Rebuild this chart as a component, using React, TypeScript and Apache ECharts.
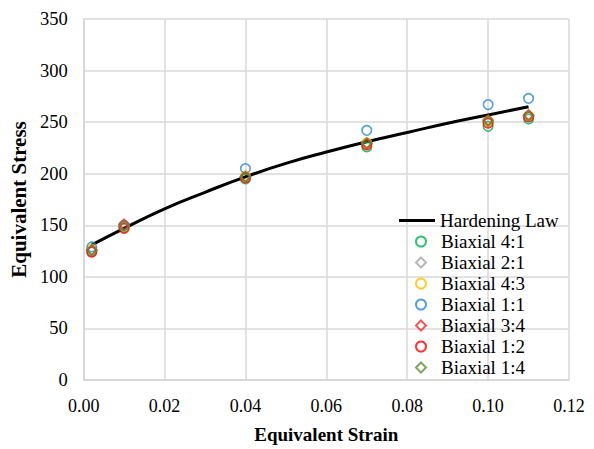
import React, { useEffect, useRef } from "react";
import * as echarts from "echarts";

const strains = [0.002, 0.01, 0.04, 0.07, 0.1, 0.11];

const lawStrain = [0.002, 0.01, 0.02, 0.03, 0.04, 0.05, 0.06, 0.07, 0.08, 0.09, 0.1, 0.11];
const lawStress = [131, 147, 166, 182, 197, 210, 221, 231, 240, 249, 257, 265];

const biaxial41 = [125, 148, 195, 226, 246, 253];
const biaxial21 = [126, 149, 197, 229, 250, 256];
const biaxial43 = [127, 149, 198, 230, 251, 256];
const biaxial11 = [129, 150, 205, 242, 267, 273];
const biaxial34 = [126, 151, 197, 229, 252, 257];
const biaxial12 = [124, 147, 196, 228, 249, 255];
const biaxial14 = [126, 149, 197, 230, 251, 256];

const scatterDefs = [
  { name: "Biaxial 4:1", data: biaxial41, color: "#00B050", symbol: "circle" },
  { name: "Biaxial 2:1", data: biaxial21, color: "#A5A5A5", symbol: "diamond" },
  { name: "Biaxial 4:3", data: biaxial43, color: "#FFC000", symbol: "circle" },
  { name: "Biaxial 1:1", data: biaxial11, color: "#2E86D1", symbol: "circle" },
  { name: "Biaxial 3:4", data: biaxial34, color: "#E8302A", symbol: "diamond" },
  { name: "Biaxial 1:2", data: biaxial12, color: "#FF0000", symbol: "circle" },
  { name: "Biaxial 1:4", data: biaxial14, color: "#5E8F3A", symbol: "diamond" },
];

const FONT = "Liberation Serif";

export default function App() {
  const ref = useRef<HTMLDivElement>(null);
  useEffect(() => {
    document.body.style.margin = "0";
    const chart = echarts.init(ref.current!, null, { renderer: "svg" });
    const series: any[] = [
      {
        name: "Hardening Law",
        type: "line",
        data: lawStrain.map((s, i) => [s, lawStress[i]]),
        smooth: true,
        showSymbol: false,
        symbol: "none",
        lineStyle: { color: "#000", width: 3 },
        itemStyle: { color: "#000" },
        z: 3,
      },
      ...scatterDefs.map((d) => ({
        name: d.name,
        type: "scatter",
        data: strains.map((s, i) => [s, d.data[i]]),
        symbol: d.symbol,
        symbolSize: d.symbol === "diamond" ? 10 : 9.5,
        itemStyle: { color: "transparent", borderColor: d.color, borderWidth: 1.6 },
        z: 4,
      })),
    ];
    const legendText = { fontFamily: FONT, fontSize: 19, color: "#000", lineHeight: 21 };
    chart.setOption({
      animation: false,
      textStyle: { fontFamily: FONT },
      grid: { left: 83, top: 19, right: 25, bottom: 65 },
      xAxis: {
        type: "value",
        min: 0,
        max: 0.12,
        interval: 0.02,
        name: "Equivalent Strain",
        nameLocation: "middle",
        nameGap: 45,
        nameTextStyle: { fontFamily: FONT, fontSize: 19, fontWeight: "bold", color: "#000" },
        axisLabel: {
          formatter: (v: number) => v.toFixed(2),
          fontFamily: FONT,
          fontSize: 18,
          color: "#000",
          margin: 17,
        },
        axisLine: { show: true, lineStyle: { color: "#d4d4d4", width: 1.5 } },
        axisTick: { show: false },
        splitLine: { show: true, lineStyle: { color: "#d9d9d9", width: 1.5 } },
      },
      yAxis: {
        type: "value",
        min: 0,
        max: 350,
        interval: 50,
        name: "Equivalent Stress",
        nameLocation: "middle",
        nameGap: 50,
        nameTextStyle: { fontFamily: FONT, fontSize: 21, fontWeight: "bold", color: "#000" },
        axisLabel: { fontFamily: FONT, fontSize: 18.5, color: "#000", margin: 16 },
        axisLine: { show: true, lineStyle: { color: "#d4d4d4", width: 1.5 } },
        axisTick: { show: false },
        splitLine: { show: true, lineStyle: { color: "#d9d9d9", width: 1.5 } },
      },
      legend: [
        {
          orient: "vertical",
          left: 399,
          top: 210,
          itemWidth: 36,
          itemHeight: 3,
          itemGap: 0,
          padding: 0,
          textStyle: legendText,
          data: [{ name: "Hardening Law", icon: "rect", itemStyle: { color: "#000" } }],
        },
        {
          orient: "vertical",
          left: 415,
          top: 231,
          itemWidth: 10,
          itemHeight: 10,
          itemGap: 0,
          padding: 0,
          textStyle: { ...legendText, padding: [0, 0, 0, 10] },
          data: scatterDefs.map((d) => ({ name: d.name })),
        },
      ],
      series,
    });
    return () => chart.dispose();
  }, []);
  return <div ref={ref} style={{ width: 594, height: 449 }} />;
}
